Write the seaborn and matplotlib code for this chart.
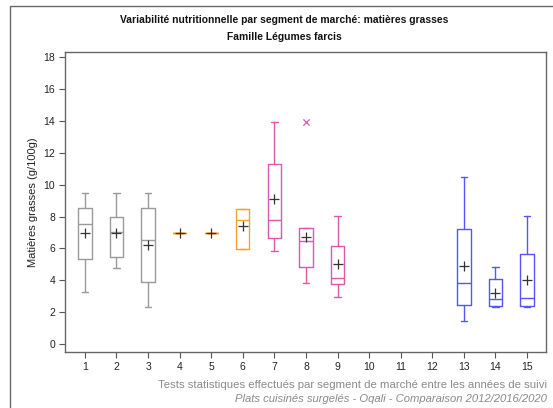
import matplotlib
matplotlib.use("Agg")
import matplotlib.pyplot as plt
import seaborn as sns
import pandas as pd
from matplotlib.patches import Rectangle

# ---- data ----
segments = [1, 2, 3, 4, 5, 6, 7, 8, 9, 10, 11, 12, 13, 14, 15]
box_pos  = [1, 2, 3, 4, 5, 6, 7, 8, 9, 13, 14, 15]
whislo   = [3.25, 4.75, 2.34, 7.0, 7.0, 5.94, 5.84, 3.85, 2.95, 1.46, 2.35, 2.35]
q1       = [5.32, 5.44, 3.89, 7.0, 7.0, 5.94, 6.65, 4.85, 3.77, 2.45, 2.40, 2.40]
median   = [7.53, 7.05, 6.53, 7.0, 7.0, 7.77, 7.77, 6.45, 4.14, 3.85, 2.84, 2.87]
q3       = [8.56, 7.95, 8.56, 7.0, 7.0, 8.46, 11.28, 7.26, 6.15, 7.24, 4.06, 5.63]
whishi   = [9.46, 9.46, 9.46, 7.0, 7.0, 8.46, 13.95, 7.26, 8.04, 10.46, 4.85, 8.04]
means    = [6.95, 6.97, 6.21, 7.0, 7.0, 7.39, 9.10, 6.72, 5.00, 4.88, 3.22, 4.04]
outlier_pos = [8]
outlier_val = [13.95]
groups   = ["g", "g", "g", "o", "o", "o", "m", "m", "m", "b", "b", "b"]
yticks   = [0, 2, 4, 6, 8, 10, 12, 14, 16, 18]

palette = {"g": "#9a9a9a", "o": "#f7a030", "m": "#e055ad", "b": "#5555ff"}

sns.set_theme(style="white")
plt.rcParams["font.family"] = ["Liberation Sans", "DejaVu Sans"]

fig = plt.figure(figsize=(5.53, 4.08), dpi=100)
ax = fig.add_axes([65/553, 1-352/408, (546-65)/553, (352-51.5)/408])

for i, p in enumerate(box_pos):
    c = palette[groups[i]]
    st = [dict(whislo=whislo[i], q1=q1[i], med=median[i], q3=q3[i],
               whishi=whishi[i], fliers=[])]
    ax.bxp(st, positions=[p], widths=0.42, showfliers=False, patch_artist=False,
           boxprops=dict(color=c, lw=1.0),
           whiskerprops=dict(color=c, lw=1.0),
           capprops=dict(color=c, lw=1.0),
           medianprops=dict(color=c, lw=1.0),
           capwidths=0.2, manage_ticks=False)

df_mean = pd.DataFrame({"x": box_pos, "y": means})
sns.scatterplot(data=df_mean, x="x", y="y", marker="+", s=45, color="#333333",
                linewidth=0.9, ax=ax, zorder=5)
df_out = pd.DataFrame({"x": outlier_pos, "y": outlier_val})
sns.scatterplot(data=df_out, x="x", y="y", marker="x", s=20, color=palette["m"],
                linewidth=0.9, ax=ax, zorder=5)

ax.set_xlim(0.37, 15.6)
ax.set_ylim(-0.5, 18.36)
ax.set_xticks(segments)
ax.set_xticklabels([str(s) for s in segments])
ax.set_yticks(yticks)
ax.set_yticklabels([str(v) for v in yticks])
ax.set_xlabel("")
ax.set_ylabel("Matières grasses (g/100g)", fontsize=8, color="#222222", labelpad=4)
ax.tick_params(axis="both", which="both", direction="out", length=4, width=0.8,
               colors="#555555", labelcolor="#222222", labelsize=7.5,
               bottom=True, left=True, pad=3)
for s in ax.spines.values():
    s.set_color("#666666")
    s.set_linewidth(1.0)

fig.text(284/553, 1-20/408, "Variabilité nutritionnelle par segment de marché: matières grasses",
         ha="center", va="center", fontsize=7.4, fontweight="bold", color="#111111")
fig.text(284/553, 1-37/408, "Famille Légumes farcis",
         ha="center", va="center", fontsize=7.4, fontweight="bold", color="#111111")
fig.text(547/553, 1-385/408,
         "Tests statistiques effectués par segment de marché entre les années de suivi",
         ha="right", va="center", fontsize=8.2, color="#8a8a8a")
fig.text(547/553, 1-399/408,
         "Plats cuisinés surgelés - Oqali - Comparaison 2012/2016/2020",
         ha="right", va="center", fontsize=8.1, color="#8a8a8a", style="italic")

# outer frame of the figure
fig.patches.append(Rectangle((10/553, -0.05), 1.0, 1-6/408+0.05,
                             transform=fig.transFigure, fill=False,
                             edgecolor="#666666", lw=1.0))

fig.savefig("out.png", dpi=100)
